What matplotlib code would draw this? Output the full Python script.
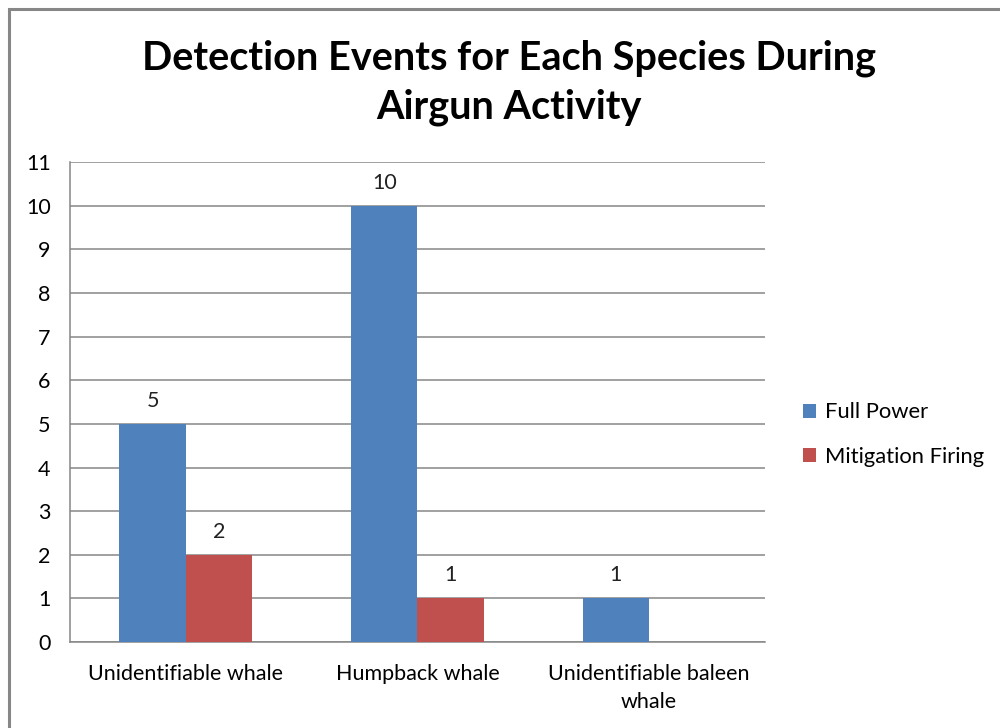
import matplotlib.pyplot as plt
import numpy as np
from matplotlib.patches import Rectangle

categories = ["Unidentifiable whale", "Humpback whale", "Unidentifiable baleen\nwhale"]
full_power = [5, 10, 1]
mitigation = [2, 1, 0]
series_names = ["Full Power", "Mitigation Firing"]
colors = ["#4F81BD", "#C0504D"]

plt.rcParams['font.family'] = ['Lato', 'DejaVu Sans']

fig = plt.figure(figsize=(10, 7.28), dpi=100)
# outer chart border (runs off the right and bottom edges)
fig.patches.append(Rectangle((0.009, -0.1), 1.2, 1.1 - 0.0124, transform=fig.transFigure,
                             fill=False, edgecolor="#878787", linewidth=2.2))

ax = fig.add_axes([0.07, 0.118, 0.695, 0.6595])
x = np.arange(len(categories))
w = 0.287
ax.bar(x - w / 2, full_power, w, color=colors[0], label=series_names[0], zorder=3)
ax.bar(x + w / 2, mitigation, w, color=colors[1], label=series_names[1], zorder=3)

fs = 15.5
for xi, v in zip(x, full_power):
    ax.text(xi - w / 2, v + 0.3, str(v), ha="center", va="bottom", fontsize=fs, color="#222222")
for xi, v in zip(x, mitigation):
    if v > 0:
        ax.text(xi + w / 2, v + 0.3, str(v), ha="center", va="bottom", fontsize=fs, color="#222222")

ax.set_xlim(-0.5, 2.5)
ax.set_ylim(0, 11)
ax.set_yticks(range(0, 12))
ax.set_xticks(x)
ax.set_xticklabels(categories, fontsize=fs, linespacing=1.5)
ax.tick_params(axis="y", labelsize=fs, length=0, pad=14)
ax.tick_params(axis="x", length=0, pad=16)
ax.grid(axis="y", color="#868686", linewidth=1.1, zorder=0)
for s in ["top", "right"]:
    ax.spines[s].set_visible(False)
for s in ["left", "bottom"]:
    ax.spines[s].set_color("#868686")
    ax.spines[s].set_linewidth(1.1)

fig.text(0.509, 0.886, "Detection Events for Each Species During\nAirgun Activity",
         ha="center", va="center", fontsize=28.5, fontweight="bold", linespacing=1.4)

fig.legend(loc="center left", bbox_to_anchor=(0.783, 0.403), frameon=False, fontsize=15.8,
           handlelength=0.6, handleheight=0.6, handletextpad=0.4, labelspacing=1.12)

fig.savefig("out.png", dpi=100)
